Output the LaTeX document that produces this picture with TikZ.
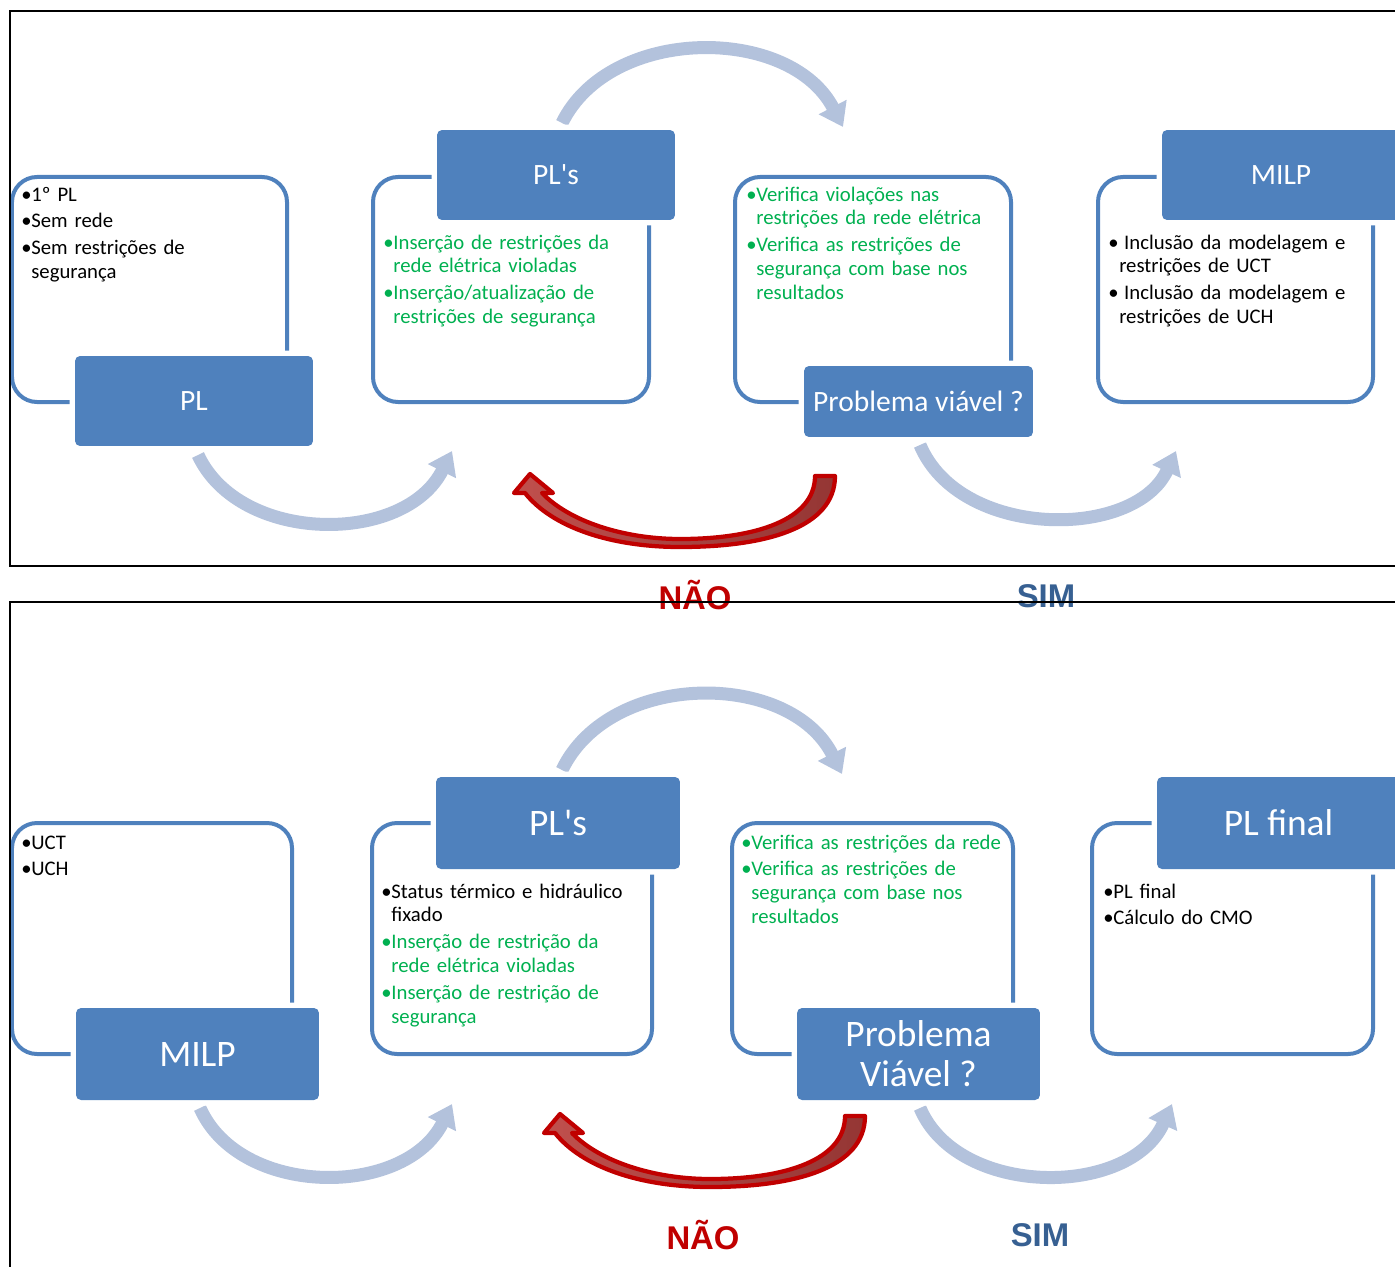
\documentclass[tikz,border=0pt]{standalone}
\usepackage{fontspec}
\setmainfont{Carlito}[Ligatures=TeXOff]
\newfontfamily\labelfont{Liberation Sans}
\usetikzlibrary{arrows.meta}

\definecolor{boxblue}{HTML}{4F81BD}
\definecolor{arcblue}{HTML}{B3C2DC}
\definecolor{txtgreen}{HTML}{00B050}
\definecolor{naored}{HTML}{C00000}
\definecolor{redlight}{HTML}{C0504D}
\definecolor{reddark}{HTML}{943634}
\definecolor{simblue}{HTML}{376092}

\newcommand{\bul}{\makebox[5.7pt][l]{•}}
\newcommand{\ind}{\hspace*{5.7pt}}

\tikzset{
	frame/.style={draw=boxblue,line width=0.08cm,rounded corners=0.5cm},
	panel/.style={draw=black,line width=0.04cm},
	hdr/.style={rectangle,rounded corners=0.1cm,fill=boxblue,text=white,inner sep=0pt,
		font=\fontsize{16.8}{19}\selectfont,preaction={draw=white,line width=0.22cm}},
	hdrbig/.style={hdr,font=\fontsize{21.3}{22.7}\selectfont,align=center},
	body/.style={anchor=base west,align=left,text width=6cm,inner sep=0pt,
		font=\fontsize{11.8}{13.6}\selectfont},
	flow/.style={draw=arcblue,line width=0.26cm,-{Triangle[width=0.6cm,length=0.45cm]}},
	back/.style={draw=naored,line width=0.085cm,line join=round,left color=redlight,right color=reddark},
	answer/.style={font=\labelfont\bfseries\fontsize{18.7}{20}\selectfont}
}

\begin{document}
\begin{tikzpicture}[x=0.02cm,y=-0.02cm]
	\useasboundingbox (0,0) rectangle (1395,1267);
	
	% outline boxes
	\foreach \xa/\xb in {12/287,373/649,735/1011,1098/1373}
	\draw[frame] (\xa,177) rectangle (\xb,402);
	\foreach \xa/\xb in {12/292,372/652,732/1013,1092/1373}
	\draw[frame] (\xa,823) rectangle (\xb,1054);
	
	% flow arcs, top
	\coordinate (s1) at (198,455);  \coordinate (e1) at (452,451);
	\coordinate (s2) at (562,123);  \coordinate (e2) at (843,127);
	\coordinate (s3) at (920,445);  \coordinate (e3) at (1176,451);
	\draw[flow] (s1) .. controls (240,545) and (405,545) .. (e1);
	\draw[flow] (s2) .. controls (610,25) and (790,25) .. (e2);
	\draw[flow] (s3) .. controls (960,540) and (1135,540) .. (e3);
	
	% flow arcs, bottom
	\coordinate (s4) at (200,1108); \coordinate (e4) at (452,1104);
	\coordinate (s5) at (562,770);  \coordinate (e5) at (842,774);
	\coordinate (s6) at (920,1108); \coordinate (e6) at (1172,1104);
	\draw[flow] (s4) .. controls (240,1198) and (405,1198) .. (e4);
	\draw[flow] (s5) .. controls (610,670) and (790,670) .. (e5);
	\draw[flow] (s6) .. controls (958,1198) and (1130,1198) .. (e6);
	
	% headers, top
	\node[hdr,minimum width=4.76cm,minimum height=1.8cm] (pl) at (194,401) {PL};
	\node[hdr,minimum width=4.76cm,minimum height=1.8cm] (pls) at (556,175) {PL's};
	\node[hdr,minimum width=4.58cm,minimum height=1.42cm] (viav) at (918.5,401.5) {Problema viável ?};
	\node[hdr,minimum width=4.76cm,minimum height=1.8cm] (milp) at (1281,175) {MILP};
	
	% headers, bottom
	\node[hdrbig,minimum width=4.86cm,minimum height=1.84cm] (milpb) at (197.5,1054) {MILP};
	\node[hdrbig,minimum width=4.88cm,minimum height=1.84cm] (plsb) at (558,823) {PL's};
	\node[hdrbig,minimum width=4.86cm,minimum height=1.84cm] (viavb) at (918.5,1054) {Problema\\Viável ?};
	\node[hdrbig,minimum width=4.86cm,minimum height=1.84cm] (plfin) at (1278.5,823) {PL final};
	
	% texts, top
	\node[body] (t1) at (21,201) {\bul 1º PL\\[1.7pt] \bul Sem rede\\[1.7pt] \bul Sem restrições de\\ \ind segurança};
	\node[body,text=txtgreen] (t2) at (383,249) {\bul Inserção de restrições da\\ \ind rede elétrica violadas\\[1.7pt] \bul Inserção/atualização de\\ \ind restrições de segurança};
	\node[body,text=txtgreen] (t3) at (746,201) {\bul Verifica violações nas\\ \ind restrições da rede elétrica\\[1.7pt] \bul Verifica as restrições de\\ \ind segurança com base nos\\ \ind resultados};
	\node[body] (t4) at (1108,249) {\makebox[9pt][l]{•}Inclusão da modelagem e\\ \hspace*{6.2pt}restrições de UCT\\[1.7pt] \makebox[9pt][l]{•}Inclusão da modelagem e\\ \hspace*{6.2pt}restrições de UCH};
	
	% texts, bottom
	\node[body] (b1) at (21,849) {\bul UCT\\[1.7pt] \bul UCH};
	\node[body] (b2) at (381,898) {\bul Status térmico e hidráulico\\ \ind fixado\\[1.7pt] \color{txtgreen}\bul Inserção de restrição da\\ \ind rede elétrica violadas\\[1.7pt] \color{txtgreen}\bul Inserção de restrição de\\ \ind segurança};
	\node[body,text=txtgreen] (b3) at (741,849) {\bul Verifica as restrições da rede\\[1.7pt] \bul Verifica as restrições de\\ \ind segurança com base nos\\ \ind resultados};
	\node[body] (b4) at (1103,898) {\bul PL final\\[1.7pt] \bul Cálculo do CMO};
	
	% back arrows (NÃO)
	\foreach \dx/\dy in {0/0,30/640}{
		\begin{scope}[shift={(\dx,\dy)}]
			\draw[back] (835,476) .. controls (835,528) and (765,547) .. (680,547)
			.. controls (610,547) and (552,527) .. (525,493) -- (514,493) -- (530,474)
			-- (553,493) -- (542,493) .. controls (570,522) and (625,539) .. (680,539)
			.. controls (755,539) and (815,520) .. (815,476) -- cycle;
		\end{scope}
	}
	
	% answers
	\node[answer,text=naored] (nao) at (695,595) {NÃO};
	\node[answer,text=simblue] (sim) at (1046,596) {SIM};
	\node[answer,text=naored] (naob) at (703,1235) {NÃO};
	\node[answer,text=simblue] (simb) at (1040,1235) {SIM};
	
	% panels
	\draw[panel] (1395,11) -- (10,11) -- (10,566) -- (1395,566);
	\draw[panel] (1395,602) -- (10,602) -- (10,1267);
\end{tikzpicture}
\end{document}
